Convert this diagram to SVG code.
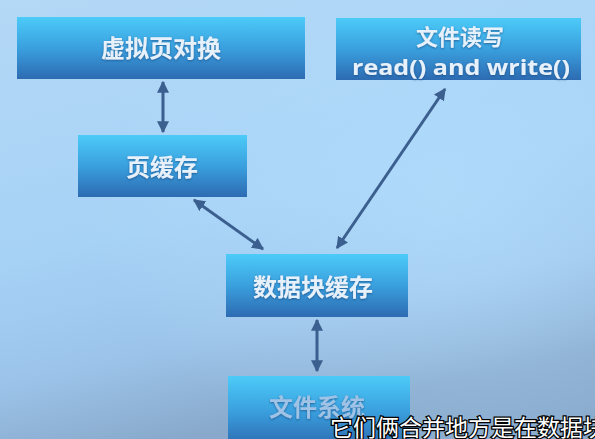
<svg xmlns="http://www.w3.org/2000/svg" width="595" height="439" viewBox="0 0 595 439">
<defs>
<linearGradient id="bg" x1="0" y1="0" x2="0.3" y2="1">
<stop offset="0" stop-color="#b4d8f6"/>
<stop offset="0.55" stop-color="#a6d2f6"/>
<stop offset="0.8" stop-color="#9cc4ea"/>
<stop offset="1" stop-color="#88a9cb"/>
</linearGradient>
<radialGradient id="glow" cx="0.75" cy="0.45" r="0.6">
<stop offset="0" stop-color="#b2dcfb" stop-opacity="0.8"/>
<stop offset="1" stop-color="#b2dcfb" stop-opacity="0"/>
</radialGradient>
<linearGradient id="box" x1="0" y1="0" x2="0" y2="1">
<stop offset="0" stop-color="#4ccbf8"/>
<stop offset="0.5" stop-color="#3aa0de"/>
<stop offset="1" stop-color="#2d6bb2"/>
</linearGradient>
<filter id="ts" x="-10%" y="-20%" width="120%" height="140%">
<feDropShadow dx="0" dy="1" stdDeviation="0.8" flood-color="#1d4a80" flood-opacity="0.7"/>
</filter>
<marker id="ah" viewBox="0 0 10 10" refX="9" refY="5" markerWidth="4" markerHeight="4" orient="auto-start-reverse" markerUnits="strokeWidth">
<path d="M0,0 L10,5 L0,10 z" fill="#3b5f8e"/>
</marker>
</defs>
<style>
.node rect{fill:url(#box);}
.lbl{font-family:"Noto Sans CJK SC","Noto Sans",sans-serif;font-weight:bold;font-size:24px;fill:#e6f1fb;text-anchor:middle;filter:url(#ts);}
.sm{font-size:22px;}
.lat{font-family:"Open Sans","Noto Sans",sans-serif;font-size:22px;}
.conn line{stroke:#3b5f8e;stroke-width:3;marker-start:url(#ah);marker-end:url(#ah);}
.sub{font-family:"Noto Sans CJK SC","Noto Sans",sans-serif;font-size:23px;fill:#ffffff;stroke:#000000;stroke-width:2.5px;paint-order:stroke;}
</style>
<rect x="0" y="0" width="595" height="439" fill="url(#bg)"/>
<rect x="0" y="0" width="595" height="439" fill="url(#glow)"/>
<g id="n1" class="node">
<rect x="17" y="17" width="288" height="62"/>
<text class="lbl" x="161" y="57">虚拟页对换</text>
</g>
<g id="n2" class="node">
<rect x="336" y="18" width="245" height="62"/>
<text class="lbl sm" x="460" y="45">文件读写</text>
<text class="lbl lat" x="461" y="75" textLength="218" lengthAdjust="spacingAndGlyphs">read() and write()</text>
</g>
<g id="n3" class="node">
<rect x="78" y="135" width="169" height="62"/>
<text class="lbl" x="162" y="176">页缓存</text>
</g>
<g id="n4" class="node">
<rect x="226" y="254" width="182" height="63"/>
<text class="lbl" x="313" y="296">数据块缓存</text>
</g>
<g id="n5" class="node">
<rect x="228" y="376" width="182" height="70"/>
<text class="lbl" x="317" y="416" style="fill:#9ec3e6">文件系统</text>
</g>
<g id="connectors" class="conn">
<line x1="163" y1="82" x2="163" y2="132"/>
<line x1="194" y1="200" x2="263" y2="249"/>
<line x1="337" y1="248" x2="445" y2="89"/>
<line x1="317" y1="320" x2="317" y2="371"/>
</g>
<text class="sub" x="330" y="436">它们俩合并地方是在数据块</text>
</svg>
